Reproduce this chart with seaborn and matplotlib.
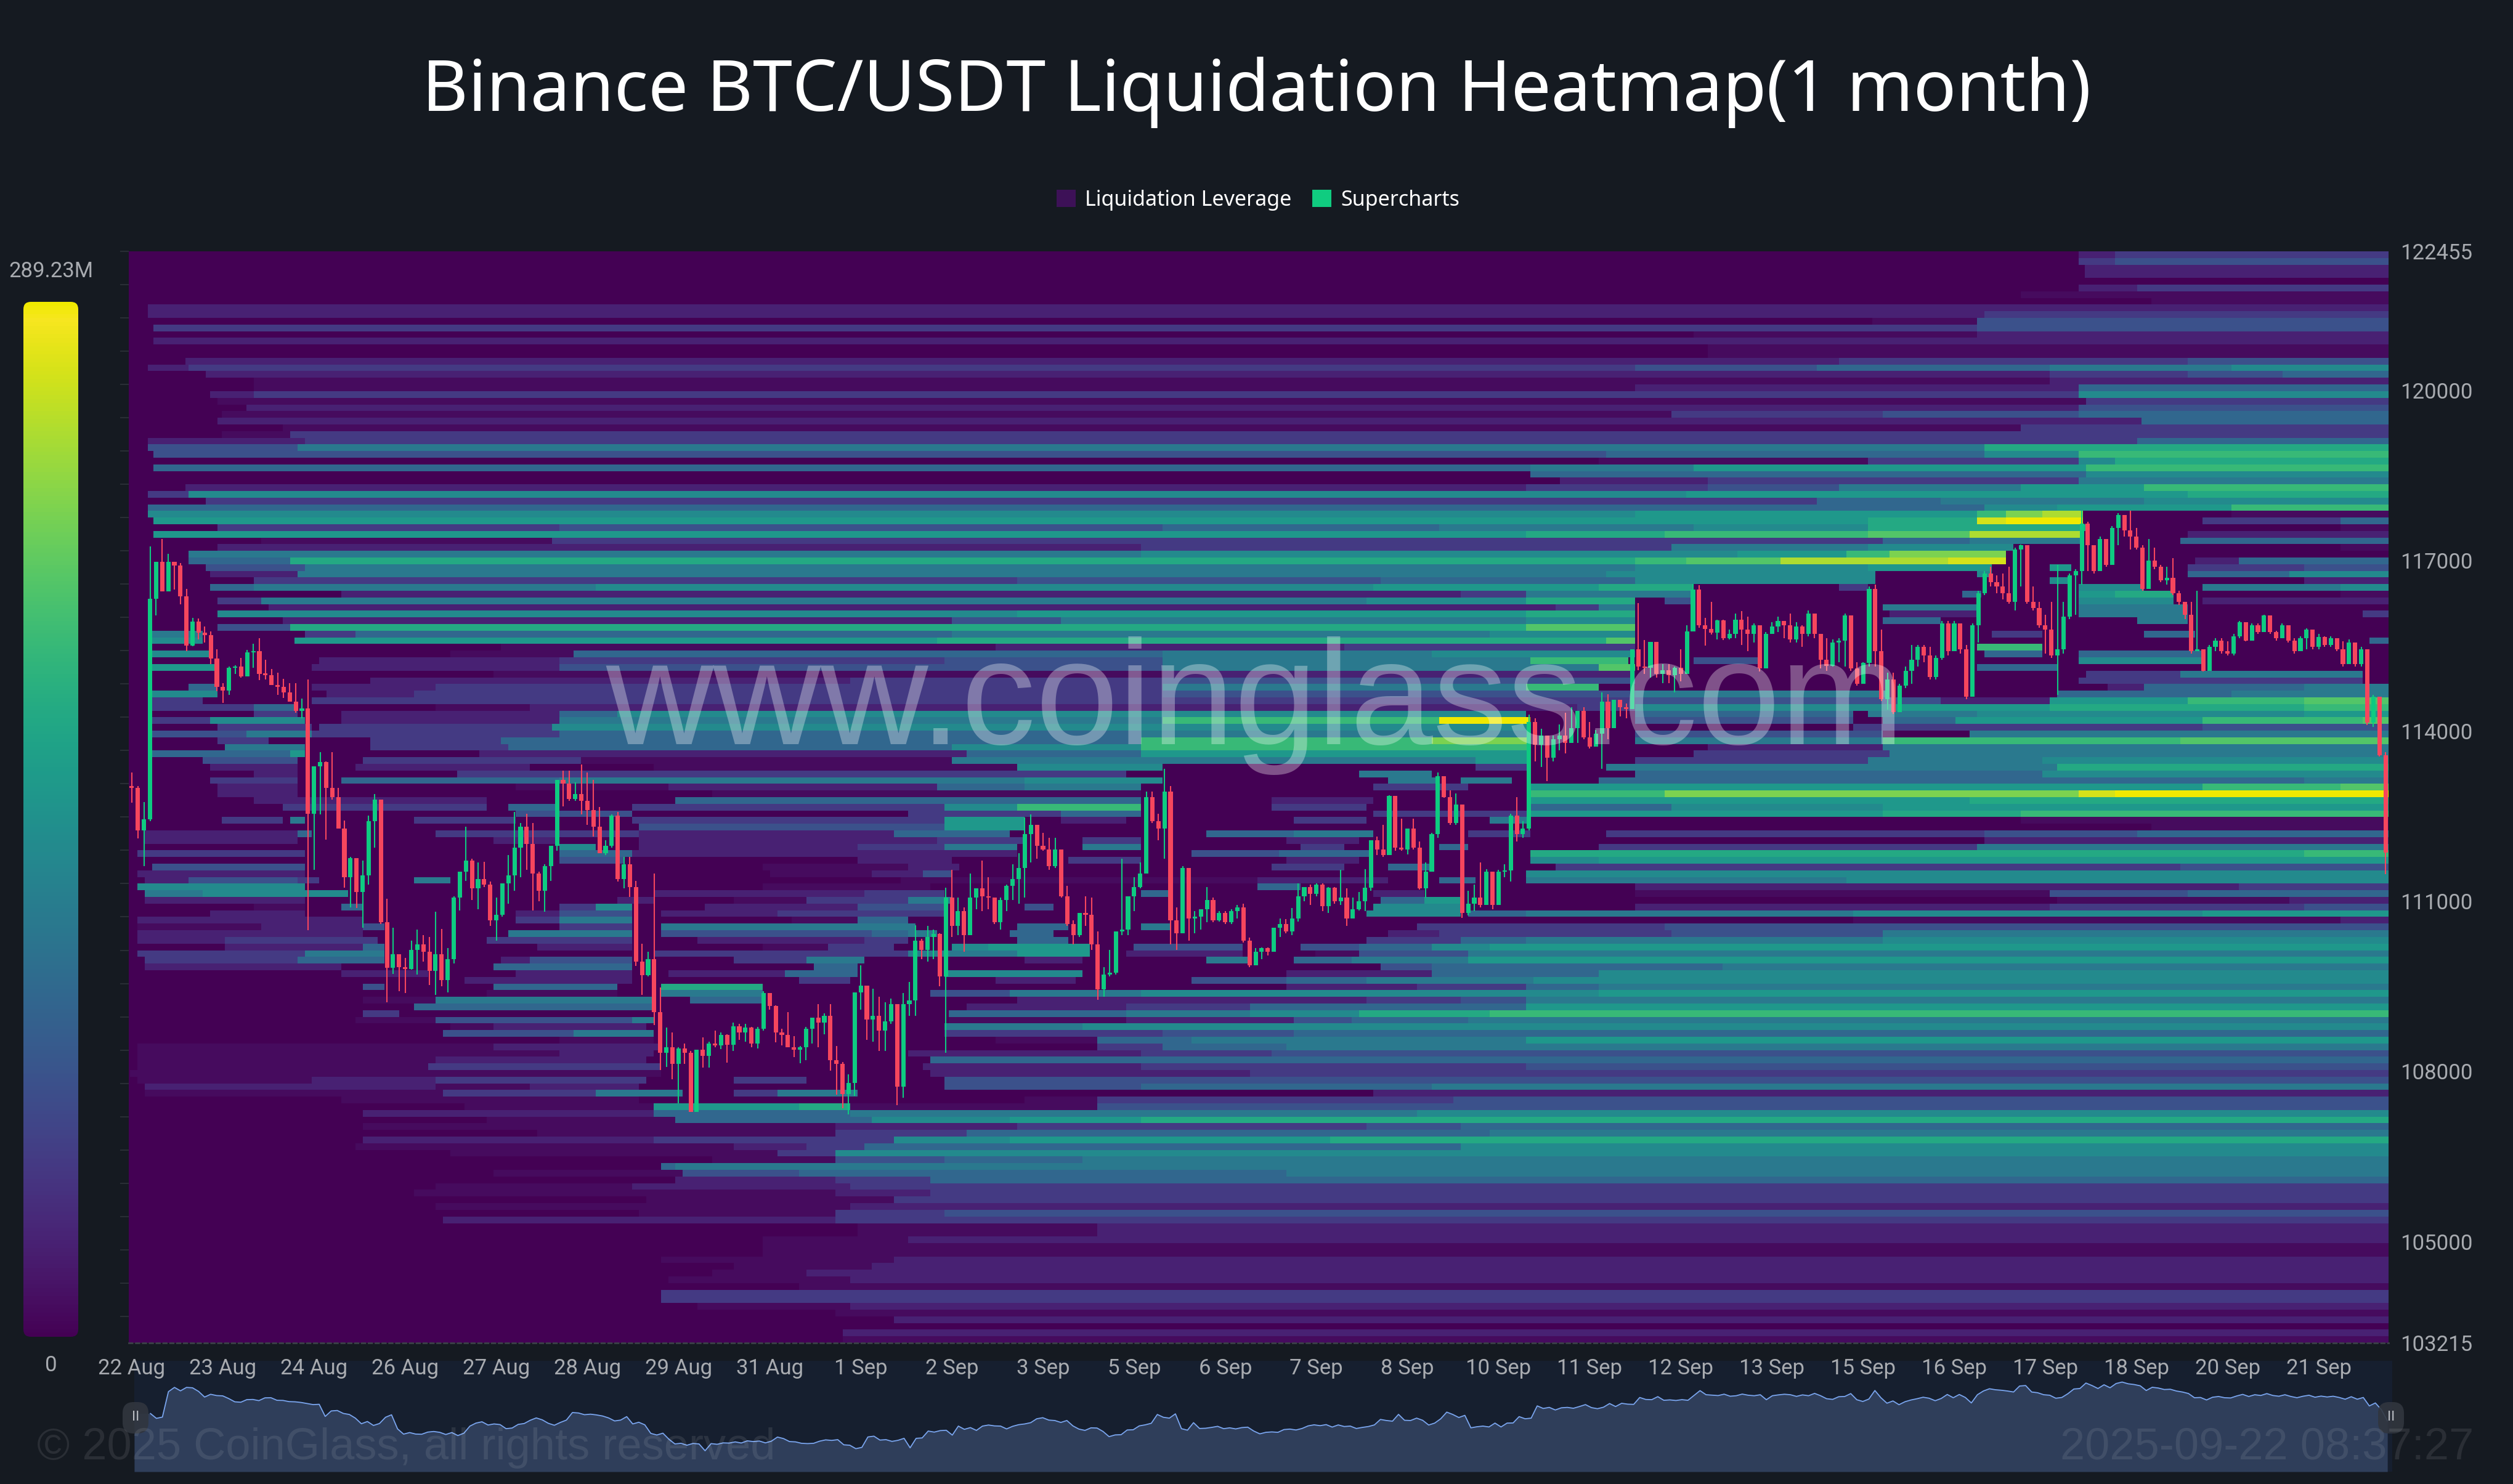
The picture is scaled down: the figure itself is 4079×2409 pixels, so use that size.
import numpy as np
import matplotlib
matplotlib.use("Agg")
import matplotlib.pyplot as plt
from matplotlib.colors import LinearSegmentedColormap
from matplotlib.patches import FancyBboxPatch, Patch
from matplotlib.transforms import IdentityTransform
import seaborn as sns

TITLE = "Binance BTC/USDT Liquidation Heatmap(1 month)"
SERIES = ["Liquidation Leverage", "Supercharts"]
X_LABELS = ["22 Aug","23 Aug","24 Aug","26 Aug","27 Aug","28 Aug","29 Aug","31 Aug","1 Sep","2 Sep","3 Sep","5 Sep",
            "6 Sep","7 Sep","8 Sep","10 Sep","11 Sep","12 Sep","13 Sep","15 Sep","16 Sep","17 Sep","18 Sep","20 Sep","21 Sep"]
Y_TICKS = [122455, 120000, 117000, 114000, 111000, 108000, 105000, 103215]
MAX_LABEL = "289.23M"
MIN_LABEL = "0"

# liquidation leverage in USD millions for each intensity level 0-f
LEVEL_VALUES = [0, 9, 27, 49, 72, 95, 116, 136, 153, 174, 194, 211, 231, 252, 269, 289.23]
TIME_SLOTS = (4, 1558)
# one string per price band, top to bottom: level, last time slot, level, last time slot, ..., level
LIQ_ROWS = [
"0 1345 2 1370 3","0 1345 3 1370 4","0 1349 2","0 1349 2","0","0 1345 2 1385 3","0 1305 1","0 1395 1",
"0 17 2","0 17 2 1280 3","0 1203 1 1275 4","0 21 3 1200 3 1275 4","0 1080 1 1275 2","0 21 2","0 1090 1","0 1090 1",
"0 43 2 1180 3 1420 4","0 17 2 45 3 1040 4 1165 5 1325 6 1450 7","0 57 2 1325 3 1420 4 1485 5","0 90 1 1325 2",
"0 90 1 1040 2 1345 5","0 60 2 90 3 1180 3 1345 7","0 65 1 1350 3","0 85 2 1055 2 1345 4",
"0 68 1 1065 3 1210 4 1345 5","0 65 2 1388 5","0 110 1 1305 3","0 68 1 115 3",
"0 17 2 125 3 1280 3 1385 5","0 17 4 120 6 1280 9","0 21 4 1020 5 1205 5 1280 7 1345 a",
"0 1015 1 1200 3 1345 7 1370 9","0 21 5 968 6 1080 8 1350 a","0 968 5 1350 7","0 988 2 1090 3 1345 6",
"0 43 2 965 3 1090 4 1180 6 1305 8 1390 a","0 17 3 45 7 965 7 1075 8 1420 9","0 57 3 1165 5 1250 6 1390 7",
"0 17 5 1280 7 1330 8 1450 a","0 17 7 1040 8 1275 a 1295 c 1320 d 1348 0 1450 1","0 21 8 1200 9 1275 e 1295 f 1348 0 1430 3 1525 5",
"0 65 3 300 4 715 5 905 6 1080 7 1200 9 1350 0 1525 1","0 21 8 715 8 965 9 1060 a 1200 b 1270 d 1348 0 1420 2",
"0 95 1 295 3 1210 5 1270 6 1348 0 1415 5","0 65 2 700 3 1065 6 1200 7 1300 0 1525 1",
"0 45 6 700 7 1110 8 1185 a 1215 c 1295 0","0 45 5 115 9 900 9 1040 a 1075 b 1140 d 1255 e 1295 0 1425 2 1455 5",
"0 57 4 125 6 1040 7 1200 8 1285 0 1325 8 1340 0 1420 3 1500 4","0 60 2 120 6 1020 7 1205 0 1275 7 1285 0 1420 5 1490 7",
"0 90 3 615 4 865 5 1040 7 1205 0 1325 7 1340 0 1500 2","0 60 5 90 6 325 7 860 8 1015 9 1080 0 1180 3 1200 0 1345 7 1390 0 1430 6 1525 7",
"0 150 2 920 3 965 6 1080 0 1265 5 1278 0 1345 8 1370 9 1410 0 1525 1","0 65 3 95 6 855 7 965 9 1040 0 1060 4 1080 0 1345 7 1410 0 1430 2",
"0 100 2 985 3 1015 6 1040 0 1210 6 1275 0 1345 6 1420 0","0 65 7 615 8 965 9 1040 0 1215 2 1275 0 1345 6 1420 0 1540 3",
"0 110 2 570 4 645 6 965 7 1040 0 1210 5 1250 0 1385 6 1420 0","0 65 4 115 9 965 b 1040 0","0 20 6 55 0 125 3 160 5 570 6 940 7 1040 0 1285 3 1320 0 1390 5 1425 0",
"0 20 7 55 0 118 8 560 9 1020 b 1040 0 1545 5","0 260 1 600 2 840 3 1040 0 1275 a 1320 0","0 20 7 60 0 225 1 310 5 715 6 900 7 1040 0 1280 5 1320 0 1345 5 1430 0",
"0 20 0 135 2 300 3 565 4 715 6 968 a 1035 0 1080 4 1125 0 1345 7 1430 0","0 20 8 65 0 130 2 300 4 715 6 1015 b 1040 0 1275 5 1330 0",
"0 255 1 715 2 1040 0 1350 3 1415 6 1540 0","0 170 2 500 3 715 4 1040 0 1345 3 1540 0","0 45 5 65 0 130 2 215 3 715 6 965 a 1015 0 1365 2 1390 5 1500 6",
"0 20 7 65 0 140 2 200 3 715 4 1040 6 1215 0 1330 5 1450 6","0 20 3 55 0 130 3 800 3 1040 4 1250 2 1325 8 1420 a 1500 b",
"0 20 3 90 5 120 0 215 1 280 2 1000 3 1040 7 1215 8 1325 9 1500 a","0 90 3 120 0 150 2 300 5 340 7 965 0 1040 5 1190 0 1200 6 1275 7 1500 8",
"0 20 3 60 7 125 0 150 2 300 6 715 a 905 f 968 0 1040 4 1190 0 1210 5 1260 8 1430 a 1540 b","0 65 3 130 0 135 3 295 7 968 0 1190 3 1430 4",
"0 20 4 85 6 130 3 300 5 700 6 968 0 1040 4 1210 0 1270 6","0 65 3 100 0 170 3 260 5 700 a 900 c 968 0 1040 6 1210 a 1415 b",
"0 70 6 125 0 170 3 265 5 570 7 700 a 968 0 1090 2 1210 6","0 20 5 115 8 125 0 245 2 580 5 700 8 968 0 1080 3 1215 6",
"0 55 4 120 0 165 3 315 1 570 6 930 8 968 0 1040 3 1200 6 1320 7","0 60 2 120 0 160 2 280 0 365 1 615 7 715 0 930 3 968 0 1020 6 1330 9",
"0 90 2 120 0 230 3 690 0 850 6 900 0 1040 5 1320 7","0 60 3 120 0 150 5 300 6 620 7 715 0 870 6 905 0 920 6 955 0 1015 5 1500 6",
"0 65 2 120 0 270 1 375 2 560 5 620 6 700 0 860 3 925 0 968 8 1430 a 1525 b","0 65 2 120 0 405 1 700 0 968 a 1060 c 1345 e 1370 f",
"0 90 2 250 0 380 5 700 0 790 2 860 0 968 8 1210 8 1270 9","0 65 0 110 3 250 0 265 5 300 0 350 3 565 7 615 a 700 0 790 3 855 0 968 5 1065 7 1210 8",
"0 215 0 270 4 350 0 540 3 645 5 700 0 860 3 968 8 1210 9 1305 a","0 68 3 110 0 115 6 125 0 200 3 270 0 350 3 565 8 620 0 645 2 690 0 805 3 855 0 940 6 968 0 1305 1",
"0 355 4 565 8 620 0 1395 1","0 15 2 120 5 130 0 215 3 355 2 530 5 610 0 745 5 805 6 860 0 925 3 968 0 1020 3 1280 4 1385 5",
"0 15 2 120 0 255 2 300 0 355 2 560 3 620 0 660 3 700 0 800 2 850 0 1280 2","0 300 7 325 0 355 2 505 3 565 6 615 0 660 6 700 0 810 3 840 0 905 5 925 0 1015 3 1275 6",
"0 10 3 125 0 300 5 350 2 615 0 735 4 795 5 860 0 968 9 1500 a","0 255 0 300 4 345 0 505 2 570 0 650 3 700 0 800 2 850 0 968 7 1015 8",
"0 20 4 125 0 440 1 540 2 575 0 790 3 840 0 870 5 900 0 985 3 1415 4","0 10 2 125 0 445 1 515 2 550 4 570 0 965 7",
"0 15 2 45 4 120 3 135 0 200 6 225 0 535 1 780 2 870 0 905 5 930 0 965 6 1185 7","0 10 7 125 0 440 1 555 0 780 5 810 0 1040 2 1455 3",
"0 15 6 55 7 155 0 365 2 510 3 565 0 700 5 720 0 860 2 895 0 1040 1 1325 4 1420 5","0 15 2 125 0 340 2 365 0 420 1 470 3 540 6 570 0 865 5 895 8 920 0 1330 1 1490 2",
"0 90 1 125 0 150 5 165 0 300 3 325 7 350 0 400 2 505 4 565 0 620 4 640 0 860 7 920 0 1040 2 1325 3 1500 4","0 60 2 125 0 270 2 300 4 350 0 370 2 450 3 565 0 855 7 920 0 925 5 965 6 1190 7 1430 8",
"0 10 2 165 0 270 3 300 6 350 0 460 1 505 5 540 0 1190 1 1525 2","0 10 1 95 2 165 4 180 0 300 3 350 0 370 6 545 0 615 5 650 0 700 6 720 0 890 3 1060 4",
"0 10 2 165 0 265 6 350 0 370 4 515 5 540 6 560 0 610 5 640 0 870 2 905 3 1065 4 1210 6","0 10 2 70 3 175 0 250 3 350 0 395 2 510 3 540 0 615 5 650 0 855 3 920 5 965 6 1210 7",
"0 70 2 165 5 180 0 285 2 350 0 440 1 485 3 530 0 570 7 595 8 665 0 695 4 770 0 810 4 850 5 900 7 940 8","0 10 3 125 6 180 0 365 3 540 6 615 8 665 0 690 2 770 0 820 1 850 4 925 6",
"0 15 3 120 5 180 0 260 2 280 4 350 0 420 3 470 6 510 0 620 2 660 0 745 6 775 0 805 5 845 6 925 8","0 15 2 150 0 255 5 350 0 475 5 505 0 865 4 900 5 1100 6",
"0 150 2 210 0 270 2 350 0 375 2 455 5 505 0 565 7 660 0 690 0 800 2 900 5 1015 7","0 235 2 350 0 465 3 500 0 600 2 655 0 735 4 800 5 855 6 970 7",
"0 165 4 180 0 255 5 340 0 370 9 440 0 800 2 890 3 965 5 1015 6","0 250 1 340 0 370 6 440 0 555 4 610 6 700 7 1015 8",
"0 165 1 215 6 365 0 390 5 440 0 615 2 855 3 920 4 965 6","0 200 5 365 0 580 2 690 3 775 5 965 8",
"0 165 3 190 0 568 5 690 6 775 7 850 9 940 a","0 160 1 215 4 350 6 365 0 568 1 690 2 805 4 845 5 925 6",
"0 225 1 255 2 360 0 565 6 660 7","0 220 4 310 6 365 0 565 3 715 4 805 5","0 300 1 365 0 600 1 670 5 735 6 965 8",
"0 10 1 255 2 370 0 670 3 715 5 800 6","0 10 1 300 2 365 0 540 2 700 3 790 4","0 10 1 215 2 360 0 555 5",
"0 10 1 210 3 370 0 550 2 700 3 965 4","0 5 1 370 0 555 2 775 3",
"0 10 1 130 2 215 3 360 0 420 3 470 0 565 4","0 15 2 215 1 280 2 355 0 565 4 700 5 900 6","0 15 1 220 3 325 6 385 0 420 3 450 6 505 0 860 2",
"0 150 1 355 0 620 1 670 3 915 4","0 235 1 365 8 465 9 500 1 670 4","0 165 2 365 5 500 6 890 7","0 250 1 380 5 515 7 610 8 700 9",
"0 165 1 490 2 615 3 855 4 920 5","0 285 1 490 3 580 5 940 6","0 165 2 365 3 530 7 610 8 830 9","0 160 1 420 2 470 3 510 5 920 7",
"0 225 1 450 3 490 7","0 405 1 490 4 565 5 660 6","0 370 5 380 6","0 255 1 385 4 465 5 800 6","0 380 2 490 3 555 5","0 215 1 350 2 500 3",
"0 200 1 490 2 555 3","0 360 1 530 3","0 215 1 500 2","0 355 1 490 3 565 4","0 220 2 490 3","0 505 1 670 2","0 505 1 670 2",
"0 440 1 540 2","0 440 1","0 440 1","0 370 1 530 2","0 420 1 515 2","0 405 1 470 2","0 375 1 500 2","0 465 1","0 370 3","0 370 3",
"0 395 1 500 2","0 490 1","0 530 2","0","0 495 2","0 495 1",
]

FIRST_OPEN = 113035
CLOSE = [
113000,112245,112440,116330,116985,116460,116985,116920,116370,115505,115930,115735,115690,115275,114780,114715,115110,115140,114960,115385,
115405,115010,114990,114810,114780,114680,114515,114350,114400,112540,113380,113450,113000,112840,112280,111420,111765,111160,111455,112410,
112790,110630,109830,110070,109840,109810,110140,110235,110105,109775,110070,109610,109975,111060,111520,111720,111225,111390,111290,110665,
110765,111320,111455,111950,112310,112015,111490,111190,111620,111980,113135,113070,112805,112885,112770,112605,112310,111850,111980,112510,
111390,111650,111255,109940,109695,109975,109050,108325,108425,108130,108405,108325,107285,108380,108275,108490,108460,108645,108470,108800,
108690,108775,108490,108755,109380,109150,108690,108645,108425,108380,108425,108755,108950,108865,108985,108195,108130,107605,107800,109395,
109515,108920,108985,108720,108885,109185,107735,109185,109250,110300,110140,
110370,110420,109680,111060,110565,110830,110400,111060,111225,111090,111060,110630,111025,111275,111390,111585,112180,112345,111980,111915,
111620,111915,111090,110600,110400,110795,110765,110235,109445,109710,109745,110465,110500,111090,111255,111490,112840,112410,112280,112935,
110665,110435,111585,110695,110730,110860,111025,110665,110795,110630,110830,110895,110300,109875,110105,110170,110105,110530,110600,110465,
110695,111090,111255,111125,111290,110910,111240,110995,111060,110695,110860,110995,111240,112080,111915,111815,112855,111950,111915,112280,
111950,111225,111520,112180,113200,112840,112375,112705,110795,110960,111060,110930,111520,110930,111520,111540,112510,112180,112280,114155,
113760,113925,113530,113860,113925,113790,114055,114350,113890,113725,113955,114515,114055,114550,114420,114385,115440,115140,115110,115570,
115010,115075,114980,115110,115010,115755,116490,115865,115800,115735,115950,115635,
115710,115961,115786,115710,115862,115100,115710,115839,115938,115862,115610,115839,115710,116068,115710,115252,115153,115557,115595,116037,
115100,114833,115199,116510,115405,114566,114910,114338,114795,115062,115252,115481,115329,114947,115291,115900,115405,115900,115443,114605,
115862,116434,116777,116624,116548,116434,116281,117196,117272,116281,116167,115862,115786,115329,115443,116015,116739,116815,117653,117272,
116815,117386,116929,117577,117805,117539,117424,117234,116510,117005,116891,116662,116700,116434,116281,116053,115405,115443,115062,115481,
115595,115405,115367,115672,115915,115595,115862,115748,116037,115748,115633,115862,115595,115405,115633,115786,115481,115656,115519,115633,
115443,115176,115557,115176,115443,114147,114605,113576,111861,
]
HIGH = [
113265,113035,112750,117250,116985,117380,117120,116985,116965,116505,116000,115980,115845,115755,115440,114845,115140,115160,115290,115425,
115535,115635,115255,115090,115030,114925,114845,114845,114570,114910,113380,113625,113465,113625,113000,112420,111785,111750,111720,112510,
112885,112575,111040,110530,110070,110000,110300,110500,110400,110370,110815,110510,110170,111090,111520,112310,111750,111685,111700,111345,
111060,111320,111815,112575,112375,112540,112375,111520,111650,111980,113135,113300,113300,113100,113410,113265,113135,112660,112080,112530,
112575,111785,111785,111355,110250,110105,111490,109480,108775,108690,108425,108490,108360,108380,108605,108525,108720,108690,108655,108865,
108840,108840,108790,108790,109415,109380,109170,108755,109050,108625,108445,108790,108950,109185,109020,109185,108445,108165,107945,109395,
109875,109500,109460,109315,109215,109280,109185,109380,109580,110580,110335,
110565,110500,110435,111240,111555,111060,110895,111490,111225,111720,111420,111060,111060,111290,111650,111850,112475,112530,112345,112200,
112115,112115,111915,111275,110665,110795,111090,111060,110465,109840,110140,110465,111750,111090,111420,111685,112935,112935,112540,113330,
113035,110895,111620,111565,110830,110860,111255,111060,110830,110830,110860,110930,110960,110355,110170,110185,110185,110530,110695,110685,
110880,111320,111255,111290,111320,111320,111255,111255,111555,111225,111060,111160,111565,112080,112145,112345,112870,112855,112460,112280,
112460,112050,111685,112210,113265,113145,112950,112905,112705,111190,111290,111685,111565,111520,111555,111650,112540,112840,112410,114285,
114220,114040,113925,113925,114120,114320,114420,114350,114420,114155,114020,114680,114650,114550,114550,114485,115440,116260,115600,115570,
115570,115175,115175,115140,115440,115865,116590,116570,116000,116280,115965,115965,
115786,116068,116113,116015,115900,115710,115748,115915,116015,115938,116068,115915,115862,116129,116068,115672,115633,115610,115633,116068,
116037,115214,115214,116548,116586,115786,115024,115024,114833,115138,115519,115519,115519,115481,115329,115938,115938,115938,115900,115519,
115900,116472,116815,116891,116739,116777,116891,117234,117287,117135,116548,116281,116053,116281,116929,116281,116777,116853,117881,117691,
117272,117424,117386,117615,117843,117805,117881,117577,117272,117386,117234,116929,116891,117043,116472,116281,116281,116472,115443,115519,
115633,115633,115580,115710,115938,115915,115900,115900,116053,116015,115763,115900,115733,115633,115672,115809,115786,115710,115672,115672,
115610,115580,115610,115481,115481,115214,114642,114605,113629,
]
LOW = [
112740,112110,111620,112410,116040,116460,116525,116490,116230,115405,115490,115620,115555,115175,114700,114500,114635,115010,114945,114960,
115120,114900,114910,114810,114635,114580,114515,114320,114220,110490,111555,112530,112090,112790,112280,111240,110895,110880,110530,111290,
111950,110600,109215,109720,109415,109380,109790,109710,109940,109525,109345,109500,109395,109905,110840,111355,111025,110860,111255,110565,
110300,110730,110960,111190,111420,111555,110840,110995,110815,111355,111885,112670,112770,112770,112530,112345,112145,111850,111815,111950,
111345,111225,111080,109855,109345,109680,108820,108030,108075,107865,107440,108130,107285,107370,108065,108065,108425,108395,108160,108360,
108560,108525,108425,108405,108720,109085,108510,108460,108425,108250,108145,108195,108490,108425,108655,108010,107590,107350,107240,107570,
109085,108560,108525,108360,108360,108840,107405,107540,108985,108985,109975,
109940,109975,109500,108325,110370,110400,110105,110730,110860,110830,110860,110600,110500,110830,111025,110960,111060,111685,111750,111885,
111555,111585,111060,110565,110235,110370,110565,110140,109260,109315,109680,109710,110400,110400,110830,111225,111490,112375,112080,111750,
110235,110140,110500,110300,110435,110500,110630,110630,110645,110600,110600,110695,110270,109840,109940,109975,110040,110105,110370,110435,
110400,110645,110995,110930,111090,110830,110795,110960,110930,110565,110765,110840,110830,111190,111815,111785,111830,111885,111885,111830,
111915,111210,111060,111520,112115,112820,112345,112345,110710,110750,110830,110895,110930,110860,110930,111420,111345,112050,112115,112245,
113465,113365,113120,113465,113660,113610,113790,113790,113860,113695,113825,113330,113860,114055,114255,114220,114385,115075,115010,114945,
114945,114845,114845,114680,114880,115055,115800,115820,115505,115700,115620,115600,
115610,115633,115519,115405,115557,115047,115405,115710,115748,115633,115557,115557,115481,115672,115633,115100,115062,115138,115214,115138,
115062,114795,114947,115138,115138,114528,114376,114300,114338,114757,114833,115138,115214,114909,114909,115252,115329,115405,115367,114566,
115138,115557,116396,116548,116434,116319,116243,116129,116548,116243,116129,115824,115367,115291,114642,115367,115976,116053,116586,116815,
116777,116967,116891,116929,117272,117424,117196,117196,116472,116967,116853,116624,116586,116396,116220,115976,115367,115405,115047,115062,
115405,115367,115329,115329,115633,115580,115595,115710,115786,115710,115595,115633,115557,115367,115405,115443,115443,115443,115481,115481,
115405,115138,115252,115138,115138,114109,114071,113553,111480,
]

W, H, DPI = 4080, 2409, 100
BG = "#151a21"
GREEN, RED = "#0ecb81", "#f6465d"
TEXT = "#a8abb0"

sns.set_theme(style="dark", rc={"figure.facecolor": BG, "axes.facecolor": BG, "savefig.facecolor": BG})
plt.rcParams["font.family"] = ["Roboto", "DejaVu Sans"]


def box(x0, y0, x1, y1):
    return [x0 / W, 1 - y1 / H, (x1 - x0) / W, (y1 - y0) / H]


def expand(row):
    parts = row.split()
    out = np.full(TIME_SLOTS[1] - TIME_SLOTS[0], LEVEL_VALUES[int(parts[-1], 16)], dtype=float)
    start = TIME_SLOTS[0]
    for lv, end in zip(parts[0::2], parts[1::2]):
        end = int(end)
        if end > start:
            out[start - TIME_SLOTS[0]:end - TIME_SLOTS[0]] = LEVEL_VALUES[int(lv, 16)]
            start = end
    return out


matrix = np.vstack([expand(r) for r in LIQ_ROWS])
viridis = sns.color_palette("viridis", as_cmap=True)
cmap = LinearSegmentedColormap.from_list("liq", [viridis(t) for t in np.linspace(0, 0.985, 64)] + ["#f0e900"])

close = np.array(CLOSE, float)
high = np.array(HIGH, float)
low = np.array(LOW, float)
opens = np.r_[FIRST_OPEN, close[:-1]]
idx = np.arange(len(close))
up = close >= opens

fig = plt.figure(figsize=(W / DPI, H / DPI), dpi=DPI, facecolor=BG)

# heatmap + colour bar
ax_heat = fig.add_axes(box(209, 408, 3877, 2180))
ax_cb = fig.add_axes(box(38, 490, 127, 2170))
sns.heatmap(matrix, ax=ax_heat, cmap=cmap, vmin=0, vmax=LEVEL_VALUES[-1], cbar=True, cbar_ax=ax_cb,
            xticklabels=False, yticklabels=False, rasterized=True)
ax_heat.set_xticks([])
ax_heat.set_yticks(np.arange(0, len(LIQ_ROWS), 5))
ax_heat.set_yticklabels([])
ax_heat.tick_params(axis="y", left=True, length=10, width=1.4, color="#2a2f36")
ax_heat.set_xlabel("")
ax_heat.set_ylabel("")
cbar = ax_heat.collections[0].colorbar
cbar.outline.set_visible(False)
cbar.set_ticks([])
clip = FancyBboxPatch((38, H - 2170), 89, 1680, boxstyle="round,pad=0,rounding_size=12", transform=IdentityTransform())
cbar.solids.set_clip_path(clip)
ax_cb.patch.set_alpha(0)
for s in ax_cb.spines.values():
    s.set_visible(False)

# overview strip (under the price axis labels)
ax_m = fig.add_axes(box(218, 2209, 3883, 2389), facecolor="#161f2f", zorder=1)
xlim_m = (-2.66, 371.8)
ax_m.fill_between(np.r_[xlim_m[0], idx], np.r_[close[0], close], 104080, color="#2f3e5a", linewidth=0)
sns.lineplot(x=idx, y=close, ax=ax_m, color="#7aa5ee", lw=1.3, legend=False, errorbar=None)
ax_m.set_xlim(*xlim_m)
ax_m.set_ylim(104080, 121060)
ax_m.set_xticks([])
ax_m.set_yticks([])
ax_m.set_xlabel("")
ax_m.set_ylabel("")
for s in ax_m.spines.values():
    s.set_visible(False)

# candles on price axis
ax = fig.add_axes(box(209, 408, 3877, 2180), facecolor="none", zorder=2)
colors = [GREEN if u else RED for u in up]
ax.vlines(idx, low, high, colors=colors, lw=1.5, zorder=3)
ax.bar(idx, np.maximum(np.abs(close - opens), 25), bottom=np.minimum(close, opens), width=0.72, color=colors,
       linewidth=0, zorder=4)
ax.set_xlim(-0.5, 371.5)
ax.set_ylim(Y_TICKS[-1], Y_TICKS[0])
ax.set_xticks(np.arange(len(X_LABELS)) * 15)
ax.set_xticklabels(X_LABELS, color=TEXT, fontsize=25)
ax.yaxis.tick_right()
ax.set_yticks(Y_TICKS)
ax.set_yticklabels([str(t) for t in Y_TICKS], color=TEXT, fontsize=25)
ax.tick_params(axis="x", length=10, width=1.4, color="#2a2f36", pad=8)
ax.tick_params(axis="y", length=0, pad=14)
ax.grid(False)
for k in ["top", "left", "right"]:
    ax.spines[k].set_visible(False)
ax.spines["bottom"].set_color("#3b4047")
ax.spines["bottom"].set_linestyle((0, (2, 2)))
ax.spines["bottom"].set_linewidth(2)

# overview sliders
for x0, x1 in [(199, 241), (3860, 3902)]:
    fig.add_artist(FancyBboxPatch((x0, H - 2327), x1 - x0, 51, boxstyle="round,pad=0,rounding_size=18",
                                  transform=IdentityTransform(), facecolor="#31363f", edgecolor="none", alpha=0.9,
                                  zorder=3))
    fig.text((x0 + x1) / 2 / W, 1 - 2301 / H, "II", color="#b9bcc2", fontsize=16, ha="center", va="center", zorder=4)

# title, legend, colour bar labels
fig.text(2040 / W, 1 - 150 / H, TITLE, color="white", fontsize=83, ha="center", va="center", family="Noto Sans")
handles = [Patch(facecolor="#3d1157", edgecolor="none", label=SERIES[0]),
           Patch(facecolor="#10cc80", edgecolor="none", label=SERIES[1])]
fig.legend(handles=handles, loc="center", bbox_to_anchor=(2042 / W, 1 - 325 / H), ncol=2, frameon=False,
           labelcolor="white", handlelength=0.9, handleheight=0.9, handletextpad=0.45, columnspacing=1.0,
           prop={"family": "Noto Sans", "size": 24.5})
fig.text(83 / W, 1 - 440 / H, MAX_LABEL, color=TEXT, fontsize=25, ha="center", va="center")
fig.text(83 / W, 1 - 2217 / H, MIN_LABEL, color=TEXT, fontsize=25, ha="center", va="center")

# watermarks
fig.text(2037 / W, 1 - 1145 / H, "www.coinglass.com", color="white", alpha=0.32, fontsize=174, ha="center", va="center",
         family="Liberation Sans", zorder=6)
fig.text(60 / W, 1 - 2350 / H, "© 2025 CoinGlass, all rights reserved", color="white", alpha=0.09, fontsize=52,
         ha="left", va="center", family="Liberation Sans", zorder=6)
fig.text(4015 / W, 1 - 2350 / H, "2025-09-22 08:37:27", color="white", alpha=0.09, fontsize=52,
         ha="right", va="center", family="Liberation Sans", zorder=6)

fig.savefig("out.png", dpi=DPI, facecolor=BG)
